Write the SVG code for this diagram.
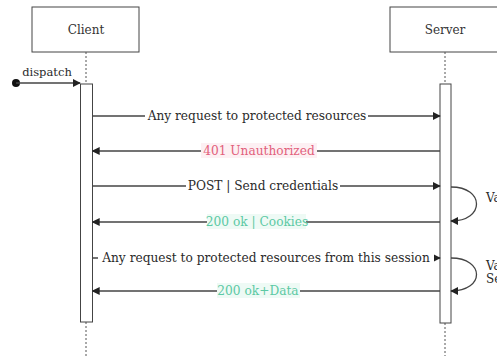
<svg xmlns="http://www.w3.org/2000/svg" width="497" height="356" viewBox="0 0 497 356">
  <style>
    .actor rect { fill: #ffffff; stroke: #444; stroke-width: 1; }
    .actor text { font-family: "DejaVu Serif", "Liberation Serif", serif; font-size: 12px; fill: #333; text-anchor: middle; }
    .life { stroke: #555; stroke-width: 1; stroke-dasharray: 2 2; }
    .act { fill: #ffffff; stroke: #444; stroke-width: 1; }
    .msg { stroke: #444; stroke-width: 1.3; fill: none; }
    .lbl { font-family: "DejaVu Serif", "Liberation Serif", serif; font-size: 12.2px; text-anchor: middle; fill: #2a2a2a; }
    .err { fill: #e2607c; }
    .ok { fill: #5cc9a4; }
    .note { font-family: "DejaVu Serif", "Liberation Serif", serif; font-size: 12px; fill: #2a2a2a; }
  </style>
  <defs>
    <marker id="arrow" viewBox="0 0 10 10" refX="9" refY="5" markerWidth="8" markerHeight="8" markerUnits="userSpaceOnUse" orient="auto">
      <path d="M0,0 L10,5 L0,10 z" fill="#222"/>
    </marker>
  </defs>
  <rect width="497" height="356" fill="#ffffff"/>

  <g id="client" class="actor">
    <rect x="32" y="7" width="107" height="45"/>
    <text x="86" y="34">Client</text>
    <line class="life" x1="86" y1="52" x2="86" y2="84"/>
    <line class="life" x1="86" y1="322" x2="86" y2="356"/>
    <rect class="act" x="80.5" y="84" width="12" height="238"/>
  </g>

  <g id="server" class="actor">
    <rect x="390" y="7" width="110" height="45"/>
    <text x="445" y="34">Server</text>
    <line class="life" x1="445" y1="52" x2="445" y2="84"/>
    <line class="life" x1="445" y1="323" x2="445" y2="356"/>
    <rect class="act" x="440" y="84" width="11" height="239"/>
  </g>

  <g id="connectors">
    <!-- entry point -->
    <circle cx="16" cy="83" r="4" fill="#111"/>
    <line class="msg" x1="16" y1="83" x2="80" y2="83" marker-end="url(#arrow)"/>
    <text class="lbl" x="47" y="76" style="font-size:11.5px">dispatch</text>

    <!-- request 1 -->
    <line class="msg" x1="92.5" y1="116" x2="440" y2="116" marker-end="url(#arrow)"/>
    <rect x="145" y="108" width="223" height="15" fill="#ffffff"/>
    <text class="lbl" x="257" y="120">Any request to protected resources</text>

    <!-- 401 -->
    <line class="msg" x1="440" y1="151" x2="92.5" y2="151" marker-end="url(#arrow)"/>
    <rect x="201" y="143" width="116" height="15" fill="#fdf0f3"/>
    <text class="lbl err" x="259" y="155">401 Unauthorized</text>

    <!-- credentials -->
    <line class="msg" x1="92.5" y1="186" x2="440" y2="186" marker-end="url(#arrow)"/>
    <rect x="186" y="178" width="154" height="15" fill="#ffffff"/>
    <text class="lbl" x="263" y="190">POST | Send credentials</text>

    <!-- self check 1 -->
    <path class="msg" d="M451,187 C485,187 485,221 451,221" marker-end="url(#arrow)"/>
    <text class="note" x="486" y="202">Validate</text>

    <!-- 200 cookies -->
    <line class="msg" x1="440" y1="222" x2="92.5" y2="222" marker-end="url(#arrow)"/>
    <rect x="207" y="214" width="99" height="15" fill="#eefaf5"/>
    <text class="lbl ok" x="257" y="226">200 ok | Cookies</text>

    <!-- request 2 -->
    <line class="msg" x1="92.5" y1="258" x2="440" y2="258" marker-end="url(#arrow)"/>
    <rect x="98" y="250" width="336" height="15" fill="#ffffff"/>
    <text class="lbl" x="266" y="262">Any request to protected resources from this session</text>

    <!-- self check 2 -->
    <path class="msg" d="M451,258 C485,258 485,291 451,291" marker-end="url(#arrow)"/>
    <text class="note" x="486" y="270">Validate</text>
    <text class="note" x="486" y="283">Session</text>

    <!-- 200 data -->
    <line class="msg" x1="440" y1="291" x2="92.5" y2="291" marker-end="url(#arrow)"/>
    <rect x="217" y="283" width="83" height="15" fill="#eefaf5"/>
    <text class="lbl ok" x="258" y="295">200 ok+Data</text>
  </g>
</svg>
